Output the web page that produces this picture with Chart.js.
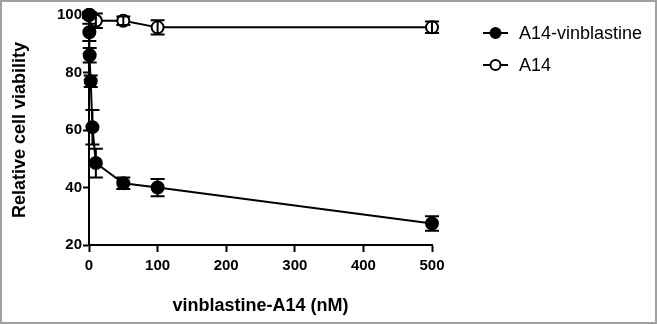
<!DOCTYPE html>
<html><head><meta charset="utf-8">
<script src="https://cdn.jsdelivr.net/npm/chart.js@4"></script>
<style>html,body{margin:0;padding:0;background:#fff}canvas{display:block}</style>
</head><body>
<canvas id="c" width="657" height="324"></canvas>
<script>
// concentrations (nM)
const vinX   = [0.05, 0.1, 0.5, 1, 2.5, 5, 10, 50, 100, 500];
const vinY   = [100, 100, 94, 86, 77, 61, 48.5, 41.5, 40, 27.5];
const vinErr = [1, 1, 3, 2.5, 2, 6, 5, 2, 3, 2.5];
const a14X   = [0.1, 1, 10, 50, 100, 500];
const a14Y   = [100, 100, 98, 98, 95.7, 95.7];
const a14Err = [1, 1, 2.5, 1.5, 2.5, 2];
const xTicks = [0, 100, 200, 300, 400, 500];
const yTicks = [20, 40, 60, 80, 100];
const labels = ['A14-vinblastine', 'A14'];

const pts = (xs, ys) => xs.map((x, i) => ({x, y: ys[i]}));
const FONT = '"Liberation Sans", Arial, sans-serif';

const errPlugin = {
  id: 'err',
  afterDatasetsDraw(chart) {
    const ctx = chart.ctx, xs = chart.scales.x, ys = chart.scales.y;
    const errs = [vinErr, a14Err];
    ctx.save();
    ctx.strokeStyle = '#000'; ctx.lineWidth = 2;
    chart.data.datasets.forEach((ds, di) => {
      ds.data.forEach((p, i) => {
        const e = errs[di][i]; if (!e) return;
        const px = xs.getPixelForValue(p.x);
        const y1 = ys.getPixelForValue(p.y + e), y2 = ys.getPixelForValue(p.y - e);
        ctx.beginPath();
        ctx.moveTo(px, y1); ctx.lineTo(px, y2);
        ctx.moveTo(px - 7, y1); ctx.lineTo(px + 7, y1);
        ctx.moveTo(px - 7, y2); ctx.lineTo(px + 7, y2);
        ctx.stroke();
      });
    });
    ctx.restore();
  }
};

const framePlugin = {
  id: 'frame',
  afterDraw(chart) {
    const ctx = chart.ctx;
    ctx.save();
    ctx.strokeStyle = '#a0a0a0'; ctx.lineWidth = 2;
    ctx.strokeRect(1, 1, chart.width - 2, chart.height - 2);
    // legend
    const rows = [33, 65];
    chart.data.datasets.forEach((ds, i) => {
      const y = rows[i];
      ctx.strokeStyle = '#000'; ctx.lineWidth = 2;
      ctx.beginPath(); ctx.moveTo(483, y); ctx.lineTo(508, y); ctx.stroke();
      ctx.beginPath(); ctx.arc(495.5, y, 5, 0, Math.PI * 2);
      ctx.fillStyle = ds.pointBackgroundColor; ctx.fill(); ctx.stroke();
      ctx.fillStyle = '#000';
      ctx.font = '18px ' + FONT;
      ctx.textBaseline = 'middle'; ctx.textAlign = 'left';
      ctx.fillText(labels[i], 519, y + 1);
    });
    ctx.restore();
  }
};

new Chart(document.getElementById('c'), {
  type: 'scatter',
  data: {
    datasets: [
      { label: labels[0], data: pts(vinX, vinY), showLine: true, borderColor: '#000', borderWidth: 2,
        pointBackgroundColor: '#000', pointBorderColor: '#000', pointRadius: 6, pointBorderWidth: 2, clip: false },
      { label: labels[1], data: pts(a14X, a14Y), showLine: true, borderColor: '#000', borderWidth: 2,
        pointBackgroundColor: '#fff', pointBorderColor: '#000', pointRadius: 6, pointBorderWidth: 2, clip: false }
    ]
  },
  options: {
    responsive: false, animation: false,
    layout: { padding: { top: 15, right: 225, left: 0, bottom: 0 } },
    plugins: { legend: { display: false }, tooltip: { enabled: false } },
    scales: {
      x: {
        type: 'linear', min: 0, max: 500,
        afterBuildTicks: s => { s.ticks = xTicks.map(v => ({value: v})); },
        afterFit: s => { s.height = 79; },
        border: { color: '#000', width: 2 },
        grid: { drawOnChartArea: false, drawTicks: true, tickLength: 7, tickWidth: 2, tickColor: '#000' },
        ticks: { color: '#000', font: { family: FONT, size: 15, weight: 'bold' }, padding: 5, maxRotation: 0 },
        title: { display: true, text: 'vinblastine-A14 (nM)', color: '#000',
                 font: { family: FONT, size: 18, weight: 'bold' }, padding: { top: 0, bottom: 7 } }
      },
      y: {
        type: 'linear', min: 20, max: 100,
        afterBuildTicks: s => { s.ticks = yTicks.map(v => ({value: v})); },
        afterFit: s => { s.width = 89; },
        border: { color: '#000', width: 2 },
        grid: { drawOnChartArea: false, drawTicks: true, tickLength: 6, tickWidth: 2, tickColor: '#000' },
        ticks: { color: '#000', font: { family: FONT, size: 15, weight: 'bold' }, padding: 1 },
        title: { display: true, text: 'Relative cell viability', color: '#000',
                 font: { family: FONT, size: 18, weight: 'bold' }, padding: { top: 9, bottom: 0 } }
      }
    }
  },
  plugins: [errPlugin, framePlugin]
});
</script>
</body></html>
